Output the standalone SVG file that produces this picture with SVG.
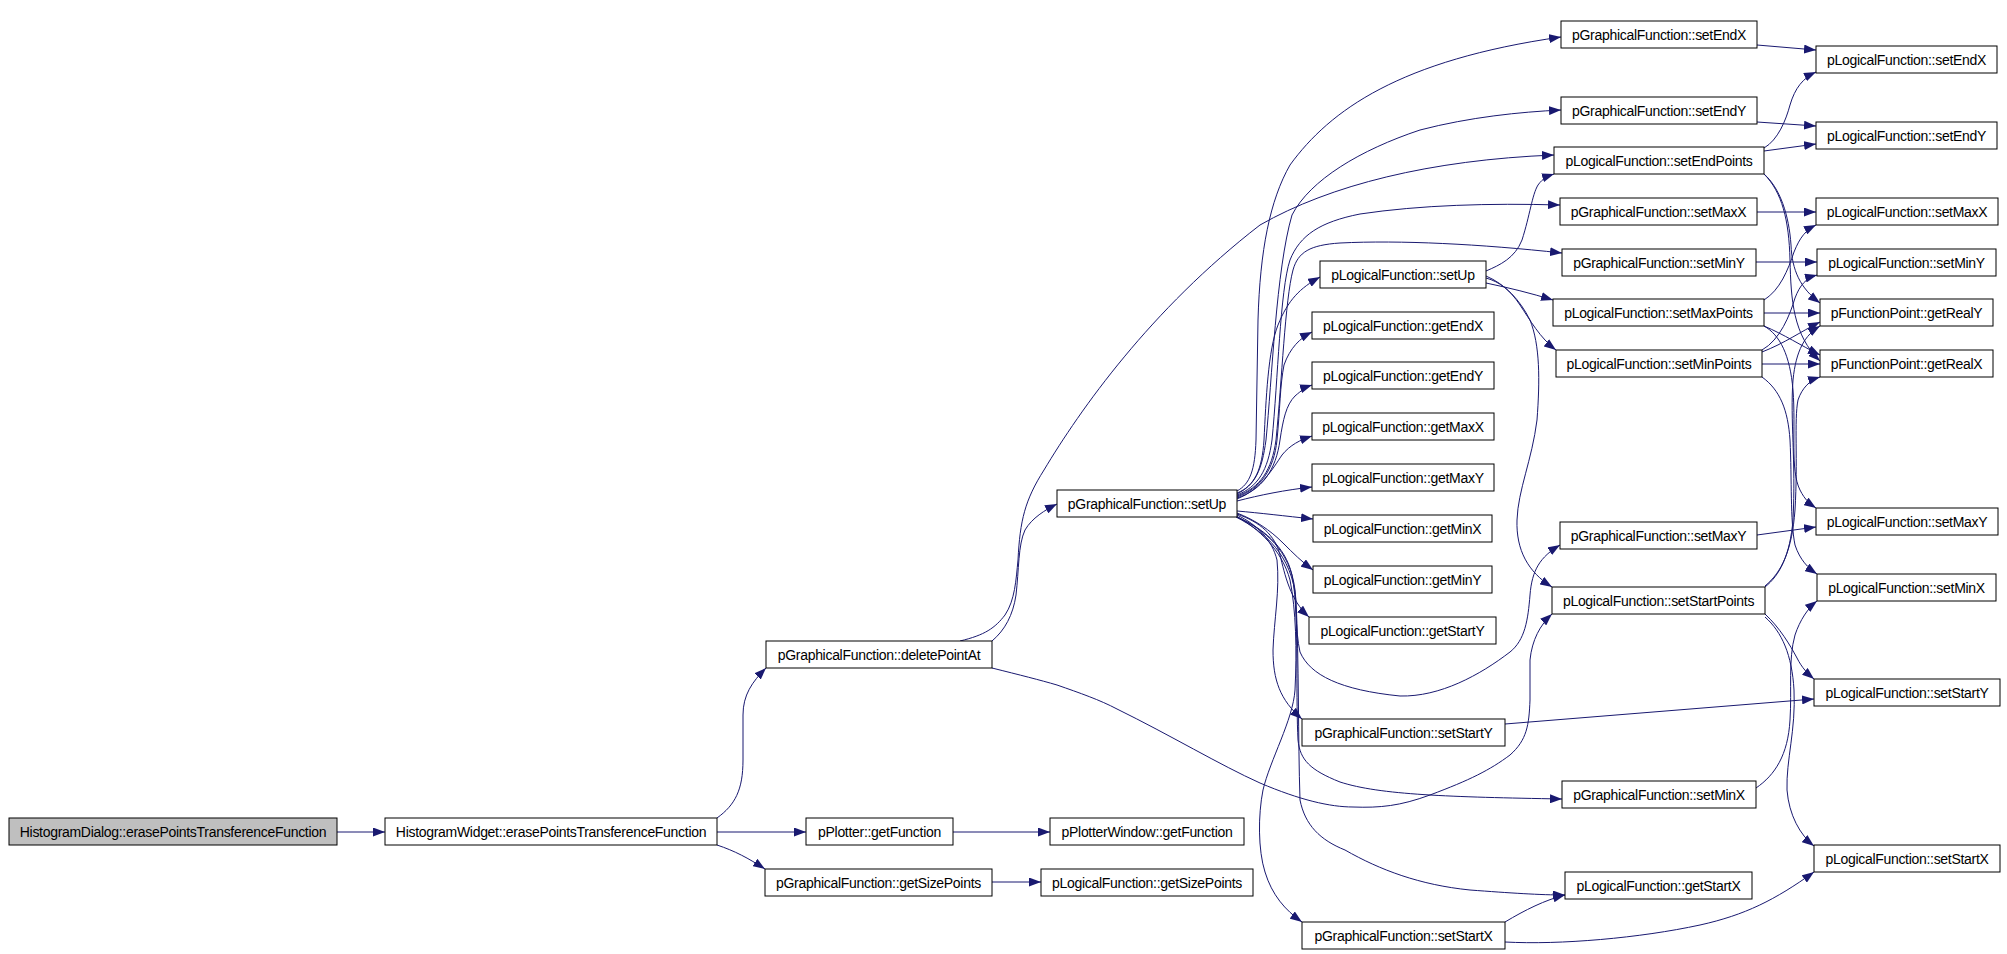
<svg xmlns="http://www.w3.org/2000/svg" width="2007" height="954" viewBox="0 0 2007 954">
<defs>
<marker id="a" markerUnits="userSpaceOnUse" markerWidth="12" markerHeight="9" refX="12" refY="4.5" orient="auto">
<path d="M0,0 L12,4.5 L0,9 z" fill="#191970"/>
</marker>
<style>
.n rect{fill:#fff;stroke:#000;stroke-width:1}
.n.root rect{fill:#bfbfbf}
.n text{font-family:"Liberation Sans",Arial,sans-serif;font-size:14px;letter-spacing:-0.3px;text-anchor:middle;fill:#000}
#edges path{fill:none;stroke:#191970;stroke-width:1;marker-end:url(#a)}
</style>
</defs>
<rect width="2007" height="954" fill="#fff"/>
<g id="edges">
<path d="M337,832 L385,832"/>
<path d="M717,818 C735,805 743,790 743,760 L743,715 C743,695 752,682 766,668"/>
<path d="M717,832 L806,832"/>
<path d="M717,845 C735,851 748,858 765,869"/>
<path d="M953,832 L1050,832"/>
<path d="M992,882 L1041,882"/>
<path d="M992,641 C1005,630 1013,615 1016,595 C1019,570 1018,545 1025,530 C1032,518 1045,510 1057,504"/>
<path d="M960,641 C985,635 995,628 1005,615 C1015,600 1016,580 1018,560 C1020,520 1025,500 1044,470 C1080,410 1150,310 1260,225 C1330,185 1430,160 1554,155"/>
<path d="M992,668 C1020,675 1040,680 1057,685 C1080,693 1100,700 1117,709 C1170,735 1220,765 1260,783 C1300,800 1330,807 1353,807 C1380,808 1400,806 1430,795 C1470,780 1490,770 1510,755 C1527,740 1529,725 1530,700 L1530,660 C1532,640 1540,625 1552,614"/>
<path d="M1237,494 C1255,485 1262,470 1264,440 C1266,400 1268,350 1278,325 C1288,300 1300,288 1320,277"/>
<path d="M1237,491 C1250,484 1255,470 1256,440 L1258,320 C1260,250 1270,200 1290,165 C1330,110 1400,60 1561,37"/>
<path d="M1237,493 C1255,486 1262,470 1266,440 C1272,380 1276,270 1292,215 C1310,180 1360,150 1420,130 C1470,117 1520,112 1561,110"/>
<path d="M1237,495 C1258,487 1268,470 1272,440 C1278,380 1280,290 1290,260 C1300,235 1320,222 1360,214 C1420,205 1490,203 1560,205"/>
<path d="M1237,496 C1260,488 1272,470 1276,440 C1282,380 1285,300 1293,270 C1298,252 1310,245 1340,243 C1400,240 1480,244 1562,253"/>
<path d="M1237,497 C1260,489 1274,470 1277,440 C1280,410 1280,385 1284,365 C1290,348 1300,338 1312,332"/>
<path d="M1237,498 C1262,490 1276,470 1280,440 C1283,420 1286,405 1295,396 C1302,390 1306,387 1312,385"/>
<path d="M1237,499 C1260,490 1272,470 1282,455 C1290,445 1300,440 1312,436"/>
<path d="M1237,501 C1260,495 1285,490 1312,487"/>
<path d="M1237,511 C1260,513 1285,516 1313,519"/>
<path d="M1237,513 C1255,520 1270,530 1283,543 C1293,553 1302,562 1313,570"/>
<path d="M1237,514 C1260,522 1275,535 1280,555 C1285,575 1290,600 1309,617"/>
<path d="M1237,515 C1258,525 1272,540 1277,560 C1280,590 1274,620 1273,650 C1273,680 1280,700 1302,719"/>
<path d="M1236,516 C1258,528 1282,550 1290,580 C1296,610 1297,650 1295,690 C1293,720 1270,760 1263,790 C1258,815 1258,850 1265,872 C1272,895 1285,910 1302,922"/>
<path d="M1237,517 C1262,528 1285,545 1292,575 C1297,600 1295,630 1300,652 C1310,675 1340,690 1400,696 C1440,697 1480,675 1510,652 C1525,640 1528,620 1530,595 C1532,570 1540,557 1560,545"/>
<path d="M1237,517 C1265,530 1290,550 1295,590 C1298,640 1296,700 1298,740 C1300,760 1310,770 1340,782 C1380,795 1450,797 1562,799"/>
<path d="M1236,517 C1265,532 1292,555 1296,600 C1299,660 1298,740 1300,800 C1305,825 1320,840 1345,850 C1380,870 1420,885 1470,890 C1510,893 1540,895 1565,895"/>
<path d="M1486,271 C1500,265 1515,258 1522,240 C1530,215 1532,195 1538,185 C1543,178 1548,176 1554,174"/>
<path d="M1486,283 C1510,288 1530,293 1553,300"/>
<path d="M1486,278 C1500,282 1510,290 1520,305 C1530,320 1540,338 1556,350"/>
<path d="M1486,276 C1505,284 1520,300 1530,320 C1540,345 1540,380 1537,420 C1532,460 1518,490 1517,520 C1516,550 1528,572 1552,587"/>
<path d="M1757,45 L1816,50"/>
<path d="M1757,122 L1816,126"/>
<path d="M1764,148 C1778,140 1786,120 1790,105 C1795,88 1803,78 1816,72"/>
<path d="M1764,151 L1816,144"/>
<path d="M1764,174 C1780,188 1789,215 1791,245 C1792,270 1800,288 1820,303"/>
<path d="M1764,174 C1782,192 1789,220 1790,260 C1791,300 1793,335 1820,361"/>
<path d="M1757,212 L1816,212"/>
<path d="M1756,262 L1817,262"/>
<path d="M1764,300 C1780,290 1788,270 1794,252 C1800,237 1806,230 1816,225"/>
<path d="M1764,313 L1820,313"/>
<path d="M1764,326 C1785,335 1800,345 1820,355"/>
<path d="M1764,326 C1780,335 1790,355 1793,390 C1796,430 1790,470 1800,490 C1805,500 1810,504 1816,508"/>
<path d="M1762,350 C1780,340 1790,315 1795,298 C1800,285 1806,278 1817,275"/>
<path d="M1762,352 C1785,343 1800,332 1820,322"/>
<path d="M1762,364 L1820,364"/>
<path d="M1762,377 C1780,390 1788,410 1790,440 C1792,480 1790,520 1795,545 C1800,560 1808,568 1817,574"/>
<path d="M1765,587 C1780,575 1790,555 1793,520 C1796,460 1790,420 1793,380 C1796,350 1805,335 1820,326"/>
<path d="M1765,586 C1782,572 1792,550 1795,510 C1798,460 1794,420 1798,400 C1802,388 1810,380 1820,377"/>
<path d="M1765,614 C1780,628 1790,645 1797,658 C1802,668 1808,674 1814,679"/>
<path d="M1765,617 C1782,632 1792,655 1794,690 C1796,730 1786,760 1787,790 C1789,815 1800,835 1814,846"/>
<path d="M1757,535 L1816,527"/>
<path d="M1756,788 C1775,775 1788,755 1790,720 C1792,690 1788,660 1795,635 C1800,620 1808,608 1817,601"/>
<path d="M1505,724 L1814,699"/>
<path d="M1505,942 C1560,945 1640,938 1700,925 C1745,915 1775,900 1814,872"/>
<path d="M1505,922 C1525,910 1545,900 1565,895"/>
</g>
<g id="n_hd" class="n root"><rect x="9" y="818" width="328" height="27"/><text x="173" y="836.5">HistogramDialog::erasePointsTransferenceFunction</text></g>
<g id="n_hw" class="n"><rect x="385" y="818" width="332" height="27"/><text x="551" y="836.5">HistogramWidget::erasePointsTransferenceFunction</text></g>
<g id="n_dpa" class="n"><rect x="766" y="641" width="226" height="27"/><text x="879" y="659.5">pGraphicalFunction::deletePointAt</text></g>
<g id="n_pgf" class="n"><rect x="806" y="818" width="147" height="27"/><text x="879.5" y="836.5">pPlotter::getFunction</text></g>
<g id="n_gsp" class="n"><rect x="765" y="869" width="227" height="27"/><text x="878.5" y="887.5">pGraphicalFunction::getSizePoints</text></g>
<g id="n_pwgf" class="n"><rect x="1050" y="818" width="194" height="27"/><text x="1147" y="836.5">pPlotterWindow::getFunction</text></g>
<g id="n_lgsp" class="n"><rect x="1041" y="869" width="212" height="27"/><text x="1147" y="887.5">pLogicalFunction::getSizePoints</text></g>
<g id="n_gsu" class="n"><rect x="1057" y="490" width="180" height="27"/><text x="1147" y="508.5">pGraphicalFunction::setUp</text></g>
<g id="n_lsu" class="n"><rect x="1320" y="261" width="166" height="27"/><text x="1403" y="279.5">pLogicalFunction::setUp</text></g>
<g id="n_lgex" class="n"><rect x="1312" y="312" width="182" height="27"/><text x="1403" y="330.5">pLogicalFunction::getEndX</text></g>
<g id="n_lgey" class="n"><rect x="1312" y="362" width="182" height="27"/><text x="1403" y="380.5">pLogicalFunction::getEndY</text></g>
<g id="n_lgmaxx" class="n"><rect x="1312" y="413" width="182" height="27"/><text x="1403" y="431.5">pLogicalFunction::getMaxX</text></g>
<g id="n_lgmaxy" class="n"><rect x="1312" y="464" width="182" height="27"/><text x="1403" y="482.5">pLogicalFunction::getMaxY</text></g>
<g id="n_lgminx" class="n"><rect x="1313" y="515" width="179" height="27"/><text x="1402.5" y="533.5">pLogicalFunction::getMinX</text></g>
<g id="n_lgminy" class="n"><rect x="1313" y="566" width="179" height="27"/><text x="1402.5" y="584.5">pLogicalFunction::getMinY</text></g>
<g id="n_lgsy" class="n"><rect x="1309" y="617" width="187" height="27"/><text x="1402.5" y="635.5">pLogicalFunction::getStartY</text></g>
<g id="n_gssy" class="n"><rect x="1302" y="719" width="203" height="27"/><text x="1403.5" y="737.5">pGraphicalFunction::setStartY</text></g>
<g id="n_gssx" class="n"><rect x="1302" y="922" width="203" height="27"/><text x="1403.5" y="940.5">pGraphicalFunction::setStartX</text></g>
<g id="n_gsex" class="n"><rect x="1561" y="21" width="196" height="27"/><text x="1659" y="39.5">pGraphicalFunction::setEndX</text></g>
<g id="n_gsey" class="n"><rect x="1561" y="97" width="196" height="27"/><text x="1659" y="115.5">pGraphicalFunction::setEndY</text></g>
<g id="n_lsep" class="n"><rect x="1554" y="147" width="210" height="27"/><text x="1659" y="165.5">pLogicalFunction::setEndPoints</text></g>
<g id="n_gsmaxx" class="n"><rect x="1560" y="198" width="197" height="27"/><text x="1658.5" y="216.5">pGraphicalFunction::setMaxX</text></g>
<g id="n_gsminy" class="n"><rect x="1562" y="249" width="194" height="27"/><text x="1659" y="267.5">pGraphicalFunction::setMinY</text></g>
<g id="n_lsmaxp" class="n"><rect x="1553" y="299" width="211" height="27"/><text x="1658.5" y="317.5">pLogicalFunction::setMaxPoints</text></g>
<g id="n_lsminp" class="n"><rect x="1556" y="350" width="206" height="27"/><text x="1659" y="368.5">pLogicalFunction::setMinPoints</text></g>
<g id="n_gsmaxy" class="n"><rect x="1560" y="522" width="197" height="27"/><text x="1658.5" y="540.5">pGraphicalFunction::setMaxY</text></g>
<g id="n_lssp" class="n"><rect x="1552" y="587" width="213" height="27"/><text x="1658.5" y="605.5">pLogicalFunction::setStartPoints</text></g>
<g id="n_gsminx" class="n"><rect x="1562" y="781" width="194" height="27"/><text x="1659" y="799.5">pGraphicalFunction::setMinX</text></g>
<g id="n_lgsx" class="n"><rect x="1565" y="872" width="187" height="27"/><text x="1658.5" y="890.5">pLogicalFunction::getStartX</text></g>
<g id="n_lsex" class="n"><rect x="1816" y="46" width="181" height="27"/><text x="1906.5" y="64.5">pLogicalFunction::setEndX</text></g>
<g id="n_lsey" class="n"><rect x="1816" y="122" width="181" height="27"/><text x="1906.5" y="140.5">pLogicalFunction::setEndY</text></g>
<g id="n_lsmaxx" class="n"><rect x="1816" y="198" width="182" height="27"/><text x="1907" y="216.5">pLogicalFunction::setMaxX</text></g>
<g id="n_lsminy" class="n"><rect x="1817" y="249" width="179" height="27"/><text x="1906.5" y="267.5">pLogicalFunction::setMinY</text></g>
<g id="n_fpry" class="n"><rect x="1820" y="299" width="173" height="27"/><text x="1906.5" y="317.5">pFunctionPoint::getRealY</text></g>
<g id="n_fprx" class="n"><rect x="1820" y="350" width="173" height="27"/><text x="1906.5" y="368.5">pFunctionPoint::getRealX</text></g>
<g id="n_lsmaxy" class="n"><rect x="1816" y="508" width="182" height="27"/><text x="1907" y="526.5">pLogicalFunction::setMaxY</text></g>
<g id="n_lsminx" class="n"><rect x="1817" y="574" width="179" height="27"/><text x="1906.5" y="592.5">pLogicalFunction::setMinX</text></g>
<g id="n_lssy" class="n"><rect x="1814" y="679" width="186" height="27"/><text x="1907" y="697.5">pLogicalFunction::setStartY</text></g>
<g id="n_lssx" class="n"><rect x="1814" y="845" width="186" height="27"/><text x="1907" y="863.5">pLogicalFunction::setStartX</text></g>
</svg>
